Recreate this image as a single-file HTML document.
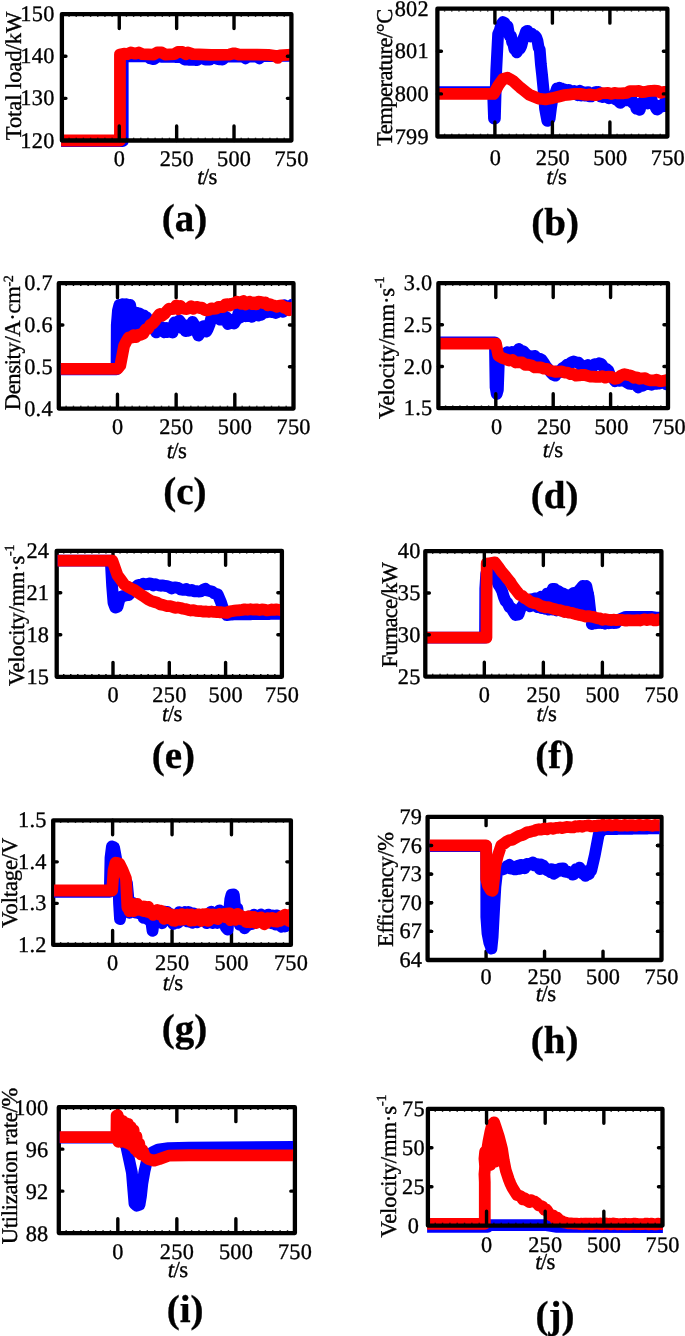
<!DOCTYPE html>
<html lang="en"><head><meta charset="utf-8"><title>Figure</title>
<style>
html,body{margin:0;padding:0;background:#fff;}
body{width:685px;height:1336px;overflow:hidden;font-family:"Liberation Serif",serif;}
svg{display:block;will-change:transform;transform:translateZ(0);}
text{text-rendering:geometricPrecision;stroke:#000;stroke-width:0.35px;stroke-linejoin:round;}
</style></head><body>
<svg width="685" height="1336" viewBox="0 0 685 1336">
<rect width="685" height="1336" fill="#fff"/>
<!-- panel (a) -->
<clipPath id="ca"><rect x="61.1" y="2.1" width="230.7" height="150.4" rx="2.5"/></clipPath><g clip-path="url(#ca)"><polyline points="61.9,141.13 63.28,141.13 64.66,141.13 66.05,141.13 67.43,141.13 68.81,141.13 70.19,141.13 71.58,141.13 72.96,141.13 74.34,141.13 75.72,141.13 77.1,141.13 78.49,141.13 79.87,141.13 81.25,141.13 82.63,141.13 84.02,141.13 85.4,141.13 86.78,141.13 88.16,141.13 89.54,141.13 90.93,141.13 92.31,141.13 93.69,141.13 95.07,141.13 96.46,141.13 97.84,141.13 99.22,141.13 100.6,141.13 101.98,141.13 103.37,141.13 104.75,141.13 106.13,141.13 107.51,141.13 108.9,141.13 110.28,141.13 111.66,141.13 113.04,141.13 114.42,141.13 115.81,141.13 117.19,141.13 118.57,141.13 119.95,141.13 121.34,141.13 122.72,141.13 122.72,56.23 124.13,56.23 125.55,56.23 126.97,56.23 128.39,56.23 129.81,56.23 131.22,56.23 132.64,56.23 134.06,56.23 135.47,56.23 136.89,56.23 138.31,56.23 139.73,56.23 141.14,56.23 142.56,56.23 143.98,56.23 145.4,56.23 146.81,56.23 148.54,57.29 150.26,58.34 151.98,58.76 153.7,59.18 155.42,57.92 157.14,56.65 158.56,56.68 159.98,56.7 161.39,56.73 162.81,56.75 164.23,56.78 165.65,56.8 167.06,56.83 168.48,56.85 169.9,56.88 171.32,56.9 172.73,56.93 174.15,56.95 175.57,56.98 176.99,57 178.4,57.03 179.82,57.05 181.24,57.08 182.96,58.34 184.68,59.6 186.08,59.65 187.49,59.7 188.89,59.74 190.29,59.79 191.69,59.84 193.1,59.88 194.5,59.93 195.9,59.98 197.3,60.03 199.03,58.55 200.75,57.08 202.28,57.92 203.81,58.76 205.34,59.6 206.87,59.6 208.4,59.6 209.93,59.6 212.22,56.65 213.66,57.29 215.09,57.92 216.53,58.55 217.96,59.18 219.49,59.32 221.02,59.46 222.55,59.6 224.27,58.13 225.99,56.65 227.43,56.65 228.86,56.65 230.3,56.65 231.73,56.65 233.16,56.65 234.6,56.65 236.03,56.65 237.47,56.65 238.9,56.65 240.34,56.65 241.77,56.65 243.2,56.65 245.5,58.34 247.79,56.65 249.32,56.65 250.85,56.65 252.38,56.65 253.91,56.65 255.44,56.65 256.97,56.65 259.27,58.34 261.56,56.23 262.99,56.21 264.41,56.19 265.83,56.17 267.25,56.15 268.67,56.13 270.09,56.11 271.51,56.09 272.93,56.07 274.35,56.05 275.77,56.03 277.19,56.01 278.61,55.99 280.03,55.97 281.45,55.95 282.88,55.93 284.3,55.91 285.72,55.89 287.14,55.87 288.56,55.85 289.98,55.83 291.4,55.81" fill="none" stroke="#0000ff" stroke-width="11.8" stroke-linecap="round" stroke-linejoin="round"/><polyline points="61.9,140.5 119.96,140.5 119.96,54.55 123.86,53.71 127.31,54.13 130.75,52.44 135.34,53.71 138.78,52.44 142.22,54.13 153.7,54.55 157.14,52.44 161.73,52.44 165.17,54.55 174.35,54.13 177.8,52.02 182.39,52.02 185.83,54.13 188.12,52.44 192.71,54.13 211.07,54.97 229.43,54.55 234.02,53.28 238.61,54.55 256.97,54.55 268.45,54.97 275.33,55.81 277.63,57.92 279.92,55.39 291.4,54.55" fill="none" stroke="#ff0000" stroke-width="11.8" stroke-linecap="round" stroke-linejoin="round"/></g>
<g><rect x="61.9" y="14.1" width="229.5" height="126.4" fill="none" stroke="#000" stroke-width="4.3" stroke-linejoin="round"/><path d="M119.27 140.5V126.05M119.27 14.1V28.55M176.65 140.5V126.05M176.65 14.1V28.55M234.02 140.5V126.05M234.02 14.1V28.55M61.9 98.37H65.95M291.4 98.37H287.35M61.9 56.23H65.95M291.4 56.23H287.35" stroke="#000" stroke-width="3.4" stroke-linecap="round" fill="none"/><path d="M69.07 15.95v0.9M69.07 137.75v0.9M76.24 15.95v0.9M76.24 137.75v0.9M83.42 15.95v0.9M83.42 137.75v0.9M90.59 15.95v0.9M90.59 137.75v0.9M97.76 15.95v0.9M97.76 137.75v0.9M104.93 15.95v0.9M104.93 137.75v0.9M112.1 15.95v0.9M112.1 137.75v0.9M119.27 15.95v0.9M119.27 137.75v0.9M126.45 15.95v0.9M126.45 137.75v0.9M133.62 15.95v0.9M133.62 137.75v0.9M140.79 15.95v0.9M140.79 137.75v0.9M147.96 15.95v0.9M147.96 137.75v0.9M155.13 15.95v0.9M155.13 137.75v0.9M162.31 15.95v0.9M162.31 137.75v0.9M169.48 15.95v0.9M169.48 137.75v0.9M176.65 15.95v0.9M176.65 137.75v0.9M183.82 15.95v0.9M183.82 137.75v0.9M190.99 15.95v0.9M190.99 137.75v0.9M198.17 15.95v0.9M198.17 137.75v0.9M205.34 15.95v0.9M205.34 137.75v0.9M212.51 15.95v0.9M212.51 137.75v0.9M219.68 15.95v0.9M219.68 137.75v0.9M226.85 15.95v0.9M226.85 137.75v0.9M234.02 15.95v0.9M234.02 137.75v0.9M241.2 15.95v0.9M241.2 137.75v0.9M248.37 15.95v0.9M248.37 137.75v0.9M255.54 15.95v0.9M255.54 137.75v0.9M262.71 15.95v0.9M262.71 137.75v0.9M269.88 15.95v0.9M269.88 137.75v0.9M277.06 15.95v0.9M277.06 137.75v0.9M284.23 15.95v0.9M284.23 137.75v0.9" stroke="#000" stroke-width="1.4" fill="none"/></g>
<g font-family='"Liberation Serif", serif' font-size="22.3" letter-spacing="0.25" fill="#000"><text x="54.55" y="147.6" text-anchor="end">120</text><text x="54.55" y="105.47" text-anchor="end">130</text><text x="54.55" y="63.33" text-anchor="end">140</text><text x="54.55" y="21.2" text-anchor="end">150</text><text x="119.4" y="166" text-anchor="middle">0</text><text x="176.77" y="166" text-anchor="middle">250</text><text x="234.15" y="166" text-anchor="middle">500</text><text x="291.52" y="166" text-anchor="middle">750</text></g>
<text x="207" y="184.1" text-anchor="middle" letter-spacing="-0.6" font-family='"Liberation Serif", serif' font-size="22.8" fill="#000"><tspan font-style="italic">t</tspan>/s</text>
<text transform="translate(20.6 76) rotate(-90)" font-family='"Liberation Serif", serif' font-size="22.6" text-anchor="middle" fill="#000" textLength="128.5" lengthAdjust="spacing">Total load/kW</text>
<text x="184.6" y="230.8" font-family='"Liberation Serif", serif' font-size="39" font-weight="bold" text-anchor="middle" fill="#000">(a)</text>
<!-- panel (b) -->
<clipPath id="cb"><rect x="436.6" y="-3.3" width="231.2" height="151.8" rx="2.5"/></clipPath><g clip-path="url(#cb)"><polyline points="437.4,92.2 438.56,92.2 439.72,92.2 440.88,92.2 442.04,92.2 443.2,92.2 444.36,92.2 445.52,92.2 446.68,92.2 447.84,92.2 449,92.2 450.16,92.2 451.31,92.2 452.47,92.2 453.63,92.2 454.79,92.2 455.95,92.2 457.11,92.2 458.27,92.2 459.43,92.2 460.59,92.2 461.75,92.2 462.91,92.2 464.07,92.2 465.23,92.2 466.39,92.2 467.55,92.2 468.71,92.2 469.87,92.2 471.03,92.2 472.19,92.2 473.35,92.2 474.51,92.2 475.67,92.2 476.83,92.2 477.99,92.2 479.14,92.2 480.3,92.2 481.46,92.2 482.62,92.2 483.78,92.2 484.94,92.2 486.1,92.2 487.26,92.2 488.42,92.2 489.58,92.2 490.74,92.2 491.9,92.2 493.06,92.2 493.98,118.61 494.9,118.61 496.28,69.68 498.12,34.03 499.73,30.24 501.34,24.36 502.95,22.12 504.56,22.85 506.05,26.74 507.55,26.14 508.7,32.65 509.85,36.33 511,35.99 512.15,42.22 513.3,43.9 514.45,49.29 515.6,49.17 516.75,52.38 517.9,50.61 519.05,48 520.2,48.34 521.35,45.81 522.85,39.77 524.34,36.49 525.95,31.45 527.56,30.81 528.94,33.71 530.32,36.52 531.7,33.67 532.85,36.42 534,35.91 535.15,35.84 536.3,37.43 537.45,40.63 538.6,47.58 539.75,49.76 540.9,64.36 542.05,74.63 543.54,89.83 545.04,108.74 546.19,114.93 547.34,120.91 548.49,116.65 549.64,118.93 551.02,107.74 552.4,99.18 553.55,95.78 554.7,94.06 555.85,91.89 557,88.35 558.15,88.85 559.3,87.72 560.45,89.35 561.6,88.58 562.75,89.45 563.9,89.26 565.05,91 566.2,93.71 567.35,90.25 568.5,89.82 569.65,90.23 570.8,92.06 571.95,91.42 573.1,94.1 574.25,91.03 575.4,92.46 576.55,94.04 577.7,95.28 578.85,91.35 580,90.76 581.15,95.47 582.3,91.94 583.45,94.04 584.6,95.47 585.75,94.85 586.9,92.53 588.05,92.05 589.2,96.34 590.35,93.47 591.5,96.44 592.65,93.05 593.8,95.08 594.95,92.33 596.1,91.87 597.25,94.35 598.4,91.88 599.55,95.46 600.7,96.7 601.85,94.08 603,97.04 604.15,96.25 605.3,95.22 606.45,94.61 607.6,97.36 608.75,98.37 609.9,94.58 611.05,97.83 612.2,94.96 613.35,95.71 614.5,98.78 615.65,99.38 616.8,100.1 617.95,100.49 619.1,101.76 620.25,102.97 621.4,100.95 622.55,97.61 623.7,98.12 624.85,98.78 626,97.57 627.15,100.3 628.3,100.24 629.45,97.05 630.6,99.65 631.75,99.78 632.9,102.79 634.05,102.68 635.2,103.8 636.35,108.62 637.5,107.54 638.65,109.41 639.8,109.78 640.95,104.33 642.1,102.59 643.25,101.24 644.4,102.64 645.55,100.56 646.7,100.14 647.85,103.53 649,103.07 650.15,99.66 651.3,97.92 652.45,103.27 653.6,103.92 654.75,104.93 655.9,108.03 657.05,109.51 658.2,108.77 659.35,107.49 660.5,105.34 661.79,106.34 663.08,105.43 664.36,102.9 665.65,106.2 666.94,102.92" fill="none" stroke="#0000ff" stroke-width="11.8" stroke-linecap="round" stroke-linejoin="round"/><polyline points="437.4,93.9 440.22,93.9 443.03,93.9 445.85,93.9 448.67,93.9 451.49,93.9 454.3,93.9 457.12,93.9 459.94,93.9 462.76,93.9 465.57,93.9 468.39,93.9 471.21,93.9 474.03,93.9 476.84,93.9 479.66,93.9 482.48,93.9 485.3,93.9 488.12,93.9 490.93,93.9 493.75,93.9 498.35,85.38 502.95,78.99 507.55,77.71 510.42,79.42 513.3,81.12 516.75,84.32 520.2,87.51 523.27,89.92 526.33,92.34 529.4,94.75 532.47,96.03 535.53,97.31 538.6,98.59 542.05,99.01 545.5,99.44 548.95,98.8 552.4,98.16 555.27,97.41 558.15,96.67 561.02,95.92 563.9,95.18 566.77,94.86 569.65,94.54 572.52,94.22 575.4,93.9 578.27,93.95 581.15,94.01 584.02,94.62 586.9,94.96 589.77,94.39 592.65,94.95 595.52,95.2 598.4,94.54 601.62,93.18 604.84,93.17 608.06,92.99 611.28,93.9 614.5,92.97 617.57,93.31 620.63,93.32 623.7,93.25 626.77,92.8 629.83,91.07 632.9,91.07 635.97,91.05 639.03,90.99 642.1,92.21 645.17,91.89 648.23,91.14 651.3,90.85 654.43,90.76 657.56,90.88 660.68,92.74 663.81,91.8 666.94,91.83" fill="none" stroke="#ff0000" stroke-width="11.8" stroke-linecap="round" stroke-linejoin="round"/></g>
<g><rect x="437.4" y="8.7" width="230" height="127.8" fill="none" stroke="#000" stroke-width="4.3" stroke-linejoin="round"/><path d="M494.9 136.5V122.05M494.9 8.7V23.15M552.4 136.5V122.05M552.4 8.7V23.15M609.9 136.5V122.05M609.9 8.7V23.15M437.4 93.9H441.45M667.4 93.9H663.35M437.4 51.3H441.45M667.4 51.3H663.35" stroke="#000" stroke-width="3.4" stroke-linecap="round" fill="none"/><path d="M444.59 10.55v0.9M444.59 133.75v0.9M451.77 10.55v0.9M451.77 133.75v0.9M458.96 10.55v0.9M458.96 133.75v0.9M466.15 10.55v0.9M466.15 133.75v0.9M473.34 10.55v0.9M473.34 133.75v0.9M480.52 10.55v0.9M480.52 133.75v0.9M487.71 10.55v0.9M487.71 133.75v0.9M494.9 10.55v0.9M494.9 133.75v0.9M502.09 10.55v0.9M502.09 133.75v0.9M509.27 10.55v0.9M509.27 133.75v0.9M516.46 10.55v0.9M516.46 133.75v0.9M523.65 10.55v0.9M523.65 133.75v0.9M530.84 10.55v0.9M530.84 133.75v0.9M538.02 10.55v0.9M538.02 133.75v0.9M545.21 10.55v0.9M545.21 133.75v0.9M552.4 10.55v0.9M552.4 133.75v0.9M559.59 10.55v0.9M559.59 133.75v0.9M566.77 10.55v0.9M566.77 133.75v0.9M573.96 10.55v0.9M573.96 133.75v0.9M581.15 10.55v0.9M581.15 133.75v0.9M588.34 10.55v0.9M588.34 133.75v0.9M595.52 10.55v0.9M595.52 133.75v0.9M602.71 10.55v0.9M602.71 133.75v0.9M609.9 10.55v0.9M609.9 133.75v0.9M617.09 10.55v0.9M617.09 133.75v0.9M624.27 10.55v0.9M624.27 133.75v0.9M631.46 10.55v0.9M631.46 133.75v0.9M638.65 10.55v0.9M638.65 133.75v0.9M645.84 10.55v0.9M645.84 133.75v0.9M653.02 10.55v0.9M653.02 133.75v0.9M660.21 10.55v0.9M660.21 133.75v0.9" stroke="#000" stroke-width="1.4" fill="none"/></g>
<g font-family='"Liberation Serif", serif' font-size="22.3" letter-spacing="0.25" fill="#000"><text x="428.85" y="143.6" text-anchor="end">799</text><text x="428.85" y="101" text-anchor="end">800</text><text x="428.85" y="58.4" text-anchor="end">801</text><text x="428.85" y="15.8" text-anchor="end">802</text><text x="495.42" y="165.2" text-anchor="middle">0</text><text x="552.92" y="165.2" text-anchor="middle">250</text><text x="610.42" y="165.2" text-anchor="middle">500</text><text x="667.92" y="165.2" text-anchor="middle">750</text></g>
<text x="556.3" y="183.6" text-anchor="middle" letter-spacing="-0.6" font-family='"Liberation Serif", serif' font-size="22.8" fill="#000"><tspan font-style="italic">t</tspan>/s</text>
<text transform="translate(392 77.3) rotate(-90)" font-family='"Liberation Serif", serif' font-size="22.6" text-anchor="middle" fill="#000" textLength="137.5" lengthAdjust="spacing">Temperature/&#176;C</text>
<text x="555.2" y="235" font-family='"Liberation Serif", serif' font-size="39" font-weight="bold" text-anchor="middle" fill="#000">(b)</text>
<!-- panel (c) -->
<g><rect x="58.8" y="283.2" width="234.7" height="125.4" fill="none" stroke="#000" stroke-width="4.3" stroke-linejoin="round"/><path d="M117.47 408.6V394.15M117.47 283.2V297.65M176.15 408.6V394.15M176.15 283.2V297.65M234.82 408.6V394.15M234.82 283.2V297.65M58.8 366.8H62.85M293.5 366.8H289.45M58.8 325H62.85M293.5 325H289.45" stroke="#000" stroke-width="3.4" stroke-linecap="round" fill="none"/><path d="M66.13 285.05v0.9M66.13 405.85v0.9M73.47 285.05v0.9M73.47 405.85v0.9M80.8 285.05v0.9M80.8 405.85v0.9M88.14 285.05v0.9M88.14 405.85v0.9M95.47 285.05v0.9M95.47 405.85v0.9M102.81 285.05v0.9M102.81 405.85v0.9M110.14 285.05v0.9M110.14 405.85v0.9M117.47 285.05v0.9M117.47 405.85v0.9M124.81 285.05v0.9M124.81 405.85v0.9M132.14 285.05v0.9M132.14 405.85v0.9M139.48 285.05v0.9M139.48 405.85v0.9M146.81 285.05v0.9M146.81 405.85v0.9M154.15 285.05v0.9M154.15 405.85v0.9M161.48 285.05v0.9M161.48 405.85v0.9M168.82 285.05v0.9M168.82 405.85v0.9M176.15 285.05v0.9M176.15 405.85v0.9M183.48 285.05v0.9M183.48 405.85v0.9M190.82 285.05v0.9M190.82 405.85v0.9M198.15 285.05v0.9M198.15 405.85v0.9M205.49 285.05v0.9M205.49 405.85v0.9M212.82 285.05v0.9M212.82 405.85v0.9M220.16 285.05v0.9M220.16 405.85v0.9M227.49 285.05v0.9M227.49 405.85v0.9M234.82 285.05v0.9M234.82 405.85v0.9M242.16 285.05v0.9M242.16 405.85v0.9M249.49 285.05v0.9M249.49 405.85v0.9M256.83 285.05v0.9M256.83 405.85v0.9M264.16 285.05v0.9M264.16 405.85v0.9M271.5 285.05v0.9M271.5 405.85v0.9M278.83 285.05v0.9M278.83 405.85v0.9M286.17 285.05v0.9M286.17 405.85v0.9" stroke="#000" stroke-width="1.4" fill="none"/></g>
<clipPath id="cc"><rect x="60.8" y="271.2" width="230.85" height="149.4" rx="2.5"/></clipPath><g clip-path="url(#cc)"><polyline points="58.8,369.31 116.54,369.31 116.77,325 117.94,310.37 119.35,304.94 120.76,306.61 122.64,304.1 124.52,306.19 126.39,304.1 128.27,306.61 130.15,304.94 131.56,314.55" fill="none" stroke="#0000ff" stroke-width="11.8" stroke-linecap="round" stroke-linejoin="round"/><polyline points="131.56,313.73 133.12,313.28 134.69,313.27 136.25,312.64 137.82,314.34 139.38,313.47 140.94,319.79 142.35,317.71 143.76,315.35 145.17,318.15 146.58,317.3 147.99,323.41 149.55,323.12 151.12,326.69 152.68,326.8 154.44,327.64 156.2,332.44 157.84,331.24 159.49,330.99 161.13,326.9 162.77,328.07 164.41,332.29 166.06,327.86 167.7,332.1 169.34,328.73 170.99,331.84 172.63,332.51 174.39,322.52 176.15,322.76 177.71,324.12 179.28,320.38 180.84,322.51 182.41,328.5 183.97,326.09 185.54,331.01 186.95,328.83 188.35,330.74 189.76,324.56 191.17,324.98 192.58,321.88 194.05,324.46 195.51,330.53 196.98,332.2 198.45,335.59 200.01,332.94 201.58,330.7 203.14,326.33 204.71,325.98 206.27,331.67 207.83,328.83 209.59,324.41 211.36,317.91 212.82,314.51 214.29,316.77 215.76,317.87 217.22,316.77 218.69,315.27 220.16,319.6 221.62,313.46 223.09,319.83 224.65,316.36 226.22,317.12 227.78,324.04 229.35,319.45 230.91,322.83 232.48,321.97 234.04,323.55 235.61,321.06 237.17,317.94 238.64,312.66 240.11,317.62 241.57,313.78 243.04,312.51 244.51,312.33 245.97,316.22 247.44,316.04 248.91,314.8 250.47,312.71 252.04,316.75 253.6,312.05 255.17,311.31 256.73,310.47 258.29,315.56 259.74,309.29 261.18,314.81 262.63,312.95 264.07,310.95 265.52,308.7 266.96,312.37 268.41,308.27 269.85,310.61 271.29,311.98 272.74,311.76 274.18,312.49 275.63,312.97 277.07,312.3 278.56,308.38 280.06,306.02 281.55,311.3 283.05,311.76 284.54,305.18 286.03,307.9 287.53,308.45 289.02,309.28 290.51,306.59 292.01,304.73 293.5,306.9" fill="none" stroke="#0000ff" stroke-width="11.8" stroke-linecap="round" stroke-linejoin="round"/><polyline points="117.01,354.26 117.94,316.64 119.82,345.9 121.7,312.46 123.58,341.72 125.45,308.28 127.33,335.45 129.21,308.28 131.56,329.18 134.37,316.64 137.42,325" fill="none" stroke="#0000ff" stroke-width="11.8" stroke-linecap="round" stroke-linejoin="round"/><polyline points="58.8,368.89 60.97,368.89 63.15,368.89 65.32,368.89 67.49,368.89 69.67,368.89 71.84,368.89 74.01,368.89 76.19,368.89 78.36,368.89 80.53,368.89 82.7,368.89 84.88,368.89 87.05,368.89 89.22,368.89 91.4,368.89 93.57,368.89 95.74,368.89 97.92,368.89 100.09,368.89 102.26,368.89 104.44,368.89 106.61,368.89 108.78,368.89 110.96,368.89 113.13,368.89 115.3,368.89 117.47,368.89 120.29,365.55 124.05,345.9 126.39,341.3 128.74,337.44 131.18,337.66 133.62,335.07 136.06,336.99 138.5,334.55 140.94,334.76 143.29,333.67 145.64,329.43 147.99,329.02 150.33,324.75 152.68,323.66 155.03,320.96 157.37,316.96 159.72,314.02 162.07,315.7 164.41,314.03 166.76,311.09 169.11,308.71 171.46,309.21 173.8,308.92 176.15,305.45 178.28,309.34 180.42,305.95 182.55,308.32 184.68,308.93 186.82,309.04 188.95,308.24 191.09,306.12 193.22,308.78 195.35,307.1 197.49,306.86 199.62,307.98 201.97,307.58 204.31,309.94 206.66,310.29 209.01,310.01 211.36,308.36 213.7,308.83 216.05,308.72 218.4,307 220.74,306.97 223.09,307.03 225.44,304.37 227.78,304.19 230.13,305.5 232.48,303.54 234.82,303.16 236.96,301.62 239.09,302.15 241.23,303.92 243.36,300.95 245.49,304.48 247.63,303.15 249.76,301.66 251.89,304.11 254.03,302.63 256.16,304.43 258.29,301.72 260.64,301.84 262.99,303.17 265.34,302.43 267.68,305.3 270.03,304.22 272.38,305.17 274.72,305.75 277.07,306.79 279.42,305.55 281.76,305.47 284.11,307.79 286.46,307.35 288.81,310.24 291.15,307.92 293.5,308.5" fill="none" stroke="#ff0000" stroke-width="11.8" stroke-linecap="round" stroke-linejoin="round"/></g>
<g font-family='"Liberation Serif", serif' font-size="22.3" letter-spacing="0.25" fill="#000"><text x="52.8" y="415.7" text-anchor="end">0.4</text><text x="52.8" y="373.9" text-anchor="end">0.5</text><text x="52.8" y="332.1" text-anchor="end">0.6</text><text x="52.8" y="290.3" text-anchor="end">0.7</text><text x="117.6" y="433.7" text-anchor="middle">0</text><text x="176.27" y="433.7" text-anchor="middle">250</text><text x="234.95" y="433.7" text-anchor="middle">500</text><text x="293.62" y="433.7" text-anchor="middle">750</text></g>
<text x="176.5" y="458" text-anchor="middle" letter-spacing="-0.6" font-family='"Liberation Serif", serif' font-size="22.8" fill="#000"><tspan font-style="italic">t</tspan>/s</text>
<text transform="translate(19.7 342.8) rotate(-90)" font-family='"Liberation Serif", serif' font-size="22.6" text-anchor="middle" fill="#000" textLength="135" lengthAdjust="spacing">Density/A&#183;cm<tspan dy="-6.5" font-size="14">-2</tspan></text>
<text x="184.8" y="504" font-family='"Liberation Serif", serif' font-size="39" font-weight="bold" text-anchor="middle" fill="#000">(c)</text>
<!-- panel (d) -->
<clipPath id="cd"><rect x="437.6" y="271.1" width="230.8" height="149.1" rx="2.5"/></clipPath><g clip-path="url(#cd)"><polyline points="438.4,342.31 440.49,342.31 442.58,342.31 444.68,342.31 446.77,342.31 448.86,342.31 450.95,342.31 453.04,342.31 455.14,342.31 457.23,342.31 459.32,342.31 461.41,342.31 463.5,342.31 465.59,342.31 467.69,342.31 469.78,342.31 471.87,342.31 473.96,342.31 476.05,342.31 478.15,342.31 480.24,342.31 482.33,342.31 484.42,342.31 486.51,342.31 488.61,342.31 490.7,342.31 492.79,342.31 494.88,342.31 495.57,387.35 496.72,394.02 497.87,389.85 499.01,358.16 502,356.07 504.98,354.9 507.28,352.03 509.58,354.4 511.87,352.06 514.17,353.71 516.46,352.33 518.76,348.99 521.06,350.79 523.35,351.29 525.65,353.85 527.94,355.81 530.24,356.09 532.54,357.52 534.83,355.81 537.13,358.7 539.42,358.63 541.72,359.76 544.02,363.11 546.31,366.81 548.61,369.33 550.9,372.46 553.2,374.74 555.5,375.65 557.79,371.12 560.09,372.13 562.38,368.18 564.68,366.91 566.98,364.71 569.27,364.54 571.57,362.11 573.86,361.5 576.16,362.25 578.46,362.66 580.75,364.98 583.05,367.69 585.34,367.95 587.64,365.01 589.94,366.54 592.23,367.52 594.53,364.18 596.82,364.57 599.12,363.23 601.42,364.12 603.71,367.49 606.01,368.65 608.3,370.52 610.6,376.61 612.9,378.13 615.19,381.19 617.49,380.04 619.78,380.84 622.08,380.29 624.38,380.92 626.67,382.33 628.97,383.63 631.26,384.07 633.56,383.08 635.86,384.54 638.15,387.39 640.45,386 642.74,385.94 645.04,383.9 647.34,384.11 649.4,384.03 651.47,384.81 653.54,383.7 655.6,383.96 657.67,383.44 659.73,383.59 661.8,382.06 663.87,381.87 665.93,384.26 668,383.53" fill="none" stroke="#0000ff" stroke-width="11.8" stroke-linecap="round" stroke-linejoin="round"/><polyline points="438.4,343.56 441.28,343.56 444.16,343.56 447.04,343.56 449.93,343.56 452.81,343.56 455.69,343.56 458.57,343.56 461.45,343.56 464.33,343.56 467.21,343.56 470.1,343.56 472.98,343.56 475.86,343.56 478.74,343.56 481.62,343.56 484.5,343.56 487.39,343.56 490.27,343.56 493.15,343.56 496.03,343.56 497.18,349.82 498.33,355.66 502.69,358.23 505.9,359.25 509.12,360.55 512.33,359.93 515.55,362.48 518.76,362.32 521.97,362.37 525.19,364.84 528.4,364.72 531.62,365.43 534.83,367.42 537.89,367.44 540.95,367.48 544.02,368.68 547.08,368.83 550.14,370.66 553.2,371.19 556.07,371.97 558.94,371.7 561.81,371.39 564.68,372.57 567.55,372.73 570.42,374.03 573.29,373.83 576.16,375.64 579.03,375.47 581.9,374.91 584.77,375.01 587.64,375.83 590.51,376.71 593.38,376.56 596.25,376.88 599.12,376.95 602.18,376.17 605.24,377.67 608.3,376.57 611.37,376.86 614.43,378.79 617.49,378.42 620.93,375.69 624.38,374.13 627.82,374.99 631.26,375.69 634.02,377.78 636.77,377.31 639.53,378.77 642.28,378.35 645.04,378.22 647.91,379.81 650.78,380.41 653.65,380.47 656.52,379.76 659.39,381.02 662.26,381.09 665.13,380.48 668,379.84" fill="none" stroke="#ff0000" stroke-width="11.8" stroke-linecap="round" stroke-linejoin="round"/></g>
<g><rect x="438.4" y="283.1" width="229.6" height="125.1" fill="none" stroke="#000" stroke-width="4.3" stroke-linejoin="round"/><path d="M495.8 408.2V393.75M495.8 283.1V297.55M553.2 408.2V393.75M553.2 283.1V297.55M610.6 408.2V393.75M610.6 283.1V297.55M438.4 366.5H442.45M668 366.5H663.95M438.4 324.8H442.45M668 324.8H663.95" stroke="#000" stroke-width="3.4" stroke-linecap="round" fill="none"/><path d="M445.57 284.95v0.9M445.57 405.45v0.9M452.75 284.95v0.9M452.75 405.45v0.9M459.92 284.95v0.9M459.92 405.45v0.9M467.1 284.95v0.9M467.1 405.45v0.9M474.27 284.95v0.9M474.27 405.45v0.9M481.45 284.95v0.9M481.45 405.45v0.9M488.62 284.95v0.9M488.62 405.45v0.9M495.8 284.95v0.9M495.8 405.45v0.9M502.97 284.95v0.9M502.97 405.45v0.9M510.15 284.95v0.9M510.15 405.45v0.9M517.33 284.95v0.9M517.33 405.45v0.9M524.5 284.95v0.9M524.5 405.45v0.9M531.67 284.95v0.9M531.67 405.45v0.9M538.85 284.95v0.9M538.85 405.45v0.9M546.02 284.95v0.9M546.02 405.45v0.9M553.2 284.95v0.9M553.2 405.45v0.9M560.38 284.95v0.9M560.38 405.45v0.9M567.55 284.95v0.9M567.55 405.45v0.9M574.73 284.95v0.9M574.73 405.45v0.9M581.9 284.95v0.9M581.9 405.45v0.9M589.08 284.95v0.9M589.08 405.45v0.9M596.25 284.95v0.9M596.25 405.45v0.9M603.42 284.95v0.9M603.42 405.45v0.9M610.6 284.95v0.9M610.6 405.45v0.9M617.77 284.95v0.9M617.77 405.45v0.9M624.95 284.95v0.9M624.95 405.45v0.9M632.12 284.95v0.9M632.12 405.45v0.9M639.3 284.95v0.9M639.3 405.45v0.9M646.48 284.95v0.9M646.48 405.45v0.9M653.65 284.95v0.9M653.65 405.45v0.9M660.83 284.95v0.9M660.83 405.45v0.9" stroke="#000" stroke-width="1.4" fill="none"/></g>
<g font-family='"Liberation Serif", serif' font-size="22.3" letter-spacing="0.25" fill="#000"><text x="432.4" y="415.3" text-anchor="end">1.5</text><text x="432.4" y="373.6" text-anchor="end">2.0</text><text x="432.4" y="331.9" text-anchor="end">2.5</text><text x="432.4" y="290.2" text-anchor="end">3.0</text><text x="496.72" y="433.7" text-anchor="middle">0</text><text x="554.12" y="433.7" text-anchor="middle">250</text><text x="611.52" y="433.7" text-anchor="middle">500</text><text x="668.92" y="433.7" text-anchor="middle">750</text></g>
<text x="552.7" y="457.1" text-anchor="middle" letter-spacing="-0.6" font-family='"Liberation Serif", serif' font-size="22.8" fill="#000"><tspan font-style="italic">t</tspan>/s</text>
<text transform="translate(393.8 347.8) rotate(-90)" font-family='"Liberation Serif", serif' font-size="22.6" text-anchor="middle" fill="#000" textLength="142.5" lengthAdjust="spacing">Velocity/mm&#183;s<tspan dy="-10" font-size="14">-1</tspan></text>
<text x="554.7" y="508.3" font-family='"Liberation Serif", serif' font-size="39" font-weight="bold" text-anchor="middle" fill="#000">(d)</text>
<!-- panel (e) -->
<g><rect x="56.7" y="550.8" width="225.2" height="126" fill="none" stroke="#000" stroke-width="4.3" stroke-linejoin="round"/><path d="M113 676.8V662.35M113 550.8V565.25M169.3 676.8V662.35M169.3 550.8V565.25M225.6 676.8V662.35M225.6 550.8V565.25M56.7 634.8H60.75M281.9 634.8H277.85M56.7 592.8H60.75M281.9 592.8H277.85" stroke="#000" stroke-width="3.4" stroke-linecap="round" fill="none"/><path d="M63.74 552.65v0.9M63.74 674.05v0.9M70.78 552.65v0.9M70.78 674.05v0.9M77.81 552.65v0.9M77.81 674.05v0.9M84.85 552.65v0.9M84.85 674.05v0.9M91.89 552.65v0.9M91.89 674.05v0.9M98.92 552.65v0.9M98.92 674.05v0.9M105.96 552.65v0.9M105.96 674.05v0.9M113 552.65v0.9M113 674.05v0.9M120.04 552.65v0.9M120.04 674.05v0.9M127.08 552.65v0.9M127.08 674.05v0.9M134.11 552.65v0.9M134.11 674.05v0.9M141.15 552.65v0.9M141.15 674.05v0.9M148.19 552.65v0.9M148.19 674.05v0.9M155.22 552.65v0.9M155.22 674.05v0.9M162.26 552.65v0.9M162.26 674.05v0.9M169.3 552.65v0.9M169.3 674.05v0.9M176.34 552.65v0.9M176.34 674.05v0.9M183.38 552.65v0.9M183.38 674.05v0.9M190.41 552.65v0.9M190.41 674.05v0.9M197.45 552.65v0.9M197.45 674.05v0.9M204.49 552.65v0.9M204.49 674.05v0.9M211.52 552.65v0.9M211.52 674.05v0.9M218.56 552.65v0.9M218.56 674.05v0.9M225.6 552.65v0.9M225.6 674.05v0.9M232.64 552.65v0.9M232.64 674.05v0.9M239.68 552.65v0.9M239.68 674.05v0.9M246.71 552.65v0.9M246.71 674.05v0.9M253.75 552.65v0.9M253.75 674.05v0.9M260.79 552.65v0.9M260.79 674.05v0.9M267.82 552.65v0.9M267.82 674.05v0.9M274.86 552.65v0.9M274.86 674.05v0.9" stroke="#000" stroke-width="1.4" fill="none"/></g>
<clipPath id="ce"><rect x="57.6" y="538.8" width="222.45" height="150" rx="2.5"/></clipPath><g clip-path="url(#ce)"><polyline points="56.7,560.6 58.5,560.6 60.3,560.6 62.1,560.6 63.91,560.6 65.71,560.6 67.51,560.6 69.31,560.6 71.11,560.6 72.91,560.6 74.72,560.6 76.52,560.6 78.32,560.6 80.12,560.6 81.92,560.6 83.72,560.6 85.53,560.6 87.33,560.6 89.13,560.6 90.93,560.6 92.73,560.6 94.53,560.6 96.34,560.6 98.14,560.6 99.94,560.6 101.74,560.6 103.54,560.6 105.34,560.6 107.14,560.6 108.95,560.6 110.75,560.6 112.1,585.8 113.45,602.6 115.25,607.5 117.5,606.8 119.31,599.8 122.01,596.3 124.26,595.83 126.51,595.25 128.76,595.02 131.02,592.32 133.27,590.49 135.52,587.37 137.77,585.26 139.65,584.84 141.53,584.97 143.4,583.67 145.37,584.16 147.34,584.47 149.31,583.46 151.28,583.57 153.21,585.37 155.14,584.19 157.07,584.83 159.01,585.4 160.94,585.76 162.87,585.31 164.8,585.87 167.05,586.19 169.3,586.93 171.55,588.52 173.35,587.59 175.16,587.37 176.96,587.53 178.76,588.27 180.56,589.37 182.44,589.78 184.31,589.91 186.19,588.91 188.07,590.33 189.94,590.57 191.82,590.03 194.07,591.25 196.32,591.08 198.58,591.51 200.83,591.43 203.08,589.86 205.33,588.72 207.58,590.58 209.84,591.16 212.09,591.55 213.96,593.34 215.84,593.74 217.72,594.37 221.1,602.6 223.8,611 226.73,615.2 228.6,614.97 230.48,614.73 232.36,614.5 234.19,614.47 236.03,614.45 237.86,614.42 239.7,614.4 241.53,614.37 243.37,614.34 245.2,614.32 247.04,614.29 248.87,614.27 250.71,614.24 252.54,614.21 254.38,614.19 256.21,614.16 258.05,614.14 259.88,614.11 261.72,614.09 263.55,614.06 265.39,614.03 267.22,614.01 269.06,613.98 270.89,613.96 272.73,613.93 274.56,613.9 276.4,613.88 278.23,613.85 280.07,613.83 281.9,613.8" fill="none" stroke="#0000ff" stroke-width="11.8" stroke-linecap="round" stroke-linejoin="round"/><polyline points="56.7,560.6 59.23,560.6 61.76,560.6 64.29,560.6 66.81,560.6 69.34,560.6 71.87,560.6 74.4,560.6 76.93,560.6 79.46,560.6 81.98,560.6 84.51,560.6 87.04,560.6 89.57,560.6 92.1,560.6 94.63,560.6 97.15,560.6 99.68,560.6 102.21,560.6 104.74,560.6 107.27,560.6 109.8,560.6 112.32,560.6 114.35,566.2 117.5,575.3 120.88,579.85 124.26,584.4 127.64,586.55 131.02,588.54 134.17,589.93 137.32,592.13 140.92,594.54 144.53,596.91 148.13,599.41 151.73,601.19 154.59,602.01 157.44,602.78 160.29,604.4 163.37,604.99 166.45,605.99 169.53,606.08 172.28,606.72 175.04,607.88 177.8,607.48 180.56,608.02 183.15,608.71 185.74,609.14 188.33,609.97 190.92,610.5 193.49,610.23 196.07,610.93 198.64,611.04 201.21,611.23 203.79,611.68 206.36,611.5 208.94,611.76 211.48,611.5 214.02,611.96 216.56,611.98 219.1,612.26 221.64,612.24 224.18,612.58 226.73,612.9 229.35,611.63 231.98,611.07 234.61,610.67 237.14,610.34 239.68,610.27 242.21,609.9 244.74,609.39 247.67,609.74 250.6,609.2 253.52,609.7 256.45,609.4 259.38,609.99 261.88,609.43 264.38,609.54 266.89,610.37 269.39,610.16 271.89,609.48 274.39,609.91 276.9,609.41 279.4,609.98 281.9,610.3" fill="none" stroke="#ff0000" stroke-width="11.8" stroke-linecap="round" stroke-linejoin="round"/></g>
<g font-family='"Liberation Serif", serif' font-size="22.3" letter-spacing="0.25" fill="#000"><text x="49.25" y="683.9" text-anchor="end">15</text><text x="49.25" y="641.9" text-anchor="end">18</text><text x="49.25" y="599.9" text-anchor="end">21</text><text x="49.25" y="557.9" text-anchor="end">24</text><text x="113.12" y="702.3" text-anchor="middle">0</text><text x="169.43" y="702.3" text-anchor="middle">250</text><text x="225.72" y="702.3" text-anchor="middle">500</text><text x="282.02" y="702.3" text-anchor="middle">750</text></g>
<text x="171.9" y="721.2" text-anchor="middle" letter-spacing="-0.6" font-family='"Liberation Serif", serif' font-size="22.8" fill="#000"><tspan font-style="italic">t</tspan>/s</text>
<text transform="translate(23.8 615.3) rotate(-90)" font-family='"Liberation Serif", serif' font-size="22.6" text-anchor="middle" fill="#000" textLength="141.5" lengthAdjust="spacing">Velocity/mm&#183;s<tspan dy="-10" font-size="14">-1</tspan></text>
<text x="173.3" y="768" font-family='"Liberation Serif", serif' font-size="39" font-weight="bold" text-anchor="middle" fill="#000">(e)</text>
<!-- panel (f) -->
<clipPath id="cf"><rect x="424.5" y="539.1" width="237.3" height="149.5" rx="2.5"/></clipPath><g clip-path="url(#cf)"><polyline points="425.3,637.7 426.96,637.7 428.62,637.7 430.28,637.7 431.94,637.7 433.6,637.7 435.26,637.7 436.91,637.7 438.57,637.7 440.23,637.7 441.89,637.7 443.55,637.7 445.21,637.7 446.87,637.7 448.53,637.7 450.19,637.7 451.85,637.7 453.51,637.7 455.17,637.7 456.83,637.7 458.49,637.7 460.14,637.7 461.8,637.7 463.46,637.7 465.12,637.7 466.78,637.7 468.44,637.7 470.1,637.7 471.76,637.7 473.42,637.7 475.08,637.7 476.74,637.7 478.4,637.7 480.06,637.7 481.71,637.7 483.37,637.7 485.03,637.7 485.27,588.75 486.21,573.69 488.1,573.27 489.99,572.85 491.88,572.43 493.77,572.02 496.13,578.29 498.49,584.69 500.26,587.38 502.03,590.9 503.8,596.91 505.57,601.08 507.54,603 509.51,607.1 511.48,608.21 513.48,611.7 515.49,615.05 518.56,614.41 520.33,608.91 522.1,606.31 523.87,604.09 525.64,604.56 527.41,600.23 529.18,603.37 531.07,599.14 532.96,601.95 534.85,598.42 536.74,599.39 538.63,598.4 540.99,596.77 543.35,601.05 545.24,599.34 547.13,593.83 549.02,594.23 550.91,594.68 552.79,588.98 554.56,588.96 556.34,592.66 558.11,590.99 559.88,592.13 561.84,593.25 563.81,593.76 565.78,597.86 567.75,595.08 569.71,597.82 571.68,596.98 573.45,592.92 575.22,593.82 576.99,592.69 578.76,590.81 580.89,588.44 583.01,585.94 584.67,588.44 586.32,586.02 588.68,597.12 590.57,613.85 593.4,623.05 595.2,622.89 596.99,622.72 598.79,622.55 600.58,622.38 602.38,622.22 604.06,622.34 605.75,622.46 607.43,622.58 609.12,622.69 610.81,622.81 612.49,622.93 614.18,623.05 616.54,621.38 618.9,619.71 620.67,618.97 622.44,618.24 624.21,617.51 625.99,616.78 627.67,616.78 629.36,616.78 631.04,616.78 632.73,616.78 634.42,616.78 636.1,616.78 637.79,616.78 639.48,616.78 641.16,616.78 642.85,616.78 644.54,616.78 646.22,616.78 647.91,616.78 649.6,616.78 651.28,616.96 652.97,617.14 654.65,617.32 656.34,617.5 658.03,617.67 659.71,617.85 661.4,618.03" fill="none" stroke="#0000ff" stroke-width="11.8" stroke-linecap="round" stroke-linejoin="round"/><polyline points="591.75,624.09 593.66,622.84 595.56,623.31 597.47,622.01 599.38,622.77 601.29,623 603.19,621.95 605.1,623.59 607.01,622.18 608.91,623.25 610.82,622.61 612.73,621.88 614.63,622.28 616.54,622.79" fill="none" stroke="#0000ff" stroke-width="11.8" stroke-linecap="round" stroke-linejoin="round"/><polyline points="524.46,602.14 526.35,604.65 528.24,601.3 530.13,606.32 532.02,600.46 533.91,605.48 535.79,598.79 537.68,607.16 539.57,598.79 541.46,607.99 543.35,599.63 545.24,608.83 547.13,596.28 549.02,609.67 550.91,592.93 552.79,609.67 554.68,592.1 556.57,610.5 558.46,592.1 560.35,610.5 562.24,593.77 564.13,611.34 566.02,597.12 567.9,612.18 569.79,596.28 571.68,612.18 573.57,595.44 575.46,613.01 577.35,592.93 579.24,613.01 581.13,588.75 583.01,613.85 584.9,587.91 586.79,613.85 588.21,594.61" fill="none" stroke="#0000ff" stroke-width="11.8" stroke-linecap="round" stroke-linejoin="round"/><polyline points="425.3,637.7 427.75,637.7 430.19,637.7 432.64,637.7 435.08,637.7 437.53,637.7 439.98,637.7 442.42,637.7 444.87,637.7 447.31,637.7 449.76,637.7 452.21,637.7 454.65,637.7 457.1,637.7 459.54,637.7 461.99,637.7 464.44,637.7 466.88,637.7 469.33,637.7 471.77,637.7 474.22,637.7 476.67,637.7 479.11,637.7 481.56,637.7 484,637.7 486.45,637.7 486.69,563.65 489.44,563.23 492.19,562.81 494.95,562.39 498.96,567.83 501.95,572.06 504.94,575.39 507.94,579.3 510.3,582.09 512.66,585.99 515.02,588.94 517.38,592.07 519.74,594.97 522.1,595.8 524.46,598.11 526.82,599.08 529.18,601.01 531.54,602.41 533.91,603.06 536.27,603.36 538.63,604.5 540.99,606.13 543.35,606.62 545.71,607.46 548.07,607.16 550.43,607.91 552.79,608.59 555.15,609.23 557.52,609.84 559.88,610.07 562.24,610.78 564.6,612 566.96,611.71 569.32,612.7 571.68,612.84 574.04,613.6 576.4,614.28 578.76,614.87 581.13,615.24 583.49,615.86 585.85,616.58 588.21,616.1 590.57,616.59 592.93,616.8 595.29,617.65 597.65,618.3 600.01,618.5 602.38,619.78 604.74,619.14 607.1,619.53 609.46,619.97 611.82,620.02 614.18,619.68 616.54,620.12 618.9,619.93 621.26,619.82 623.62,620.18 625.99,620.62 628.35,620.11 630.71,620.42 633.07,620.4 635.43,620.42 637.79,620.16 640.15,620.53 642.51,619.73 644.87,619.29 647.23,620.02 649.6,619.55 651.96,619.24 654.32,620.4 656.68,620.24 659.04,619.32 661.4,619.25" fill="none" stroke="#ff0000" stroke-width="11.8" stroke-linecap="round" stroke-linejoin="round"/></g>
<g><rect x="425.3" y="551.1" width="236.1" height="125.5" fill="none" stroke="#000" stroke-width="4.3" stroke-linejoin="round"/><path d="M484.32 676.6V662.15M484.32 551.1V565.55M543.35 676.6V662.15M543.35 551.1V565.55M602.38 676.6V662.15M602.38 551.1V565.55M425.3 634.77H429.35M661.4 634.77H657.35M425.3 592.93H429.35M661.4 592.93H657.35" stroke="#000" stroke-width="3.4" stroke-linecap="round" fill="none"/><path d="M432.68 552.95v0.9M432.68 673.85v0.9M440.06 552.95v0.9M440.06 673.85v0.9M447.43 552.95v0.9M447.43 673.85v0.9M454.81 552.95v0.9M454.81 673.85v0.9M462.19 552.95v0.9M462.19 673.85v0.9M469.57 552.95v0.9M469.57 673.85v0.9M476.95 552.95v0.9M476.95 673.85v0.9M484.32 552.95v0.9M484.32 673.85v0.9M491.7 552.95v0.9M491.7 673.85v0.9M499.08 552.95v0.9M499.08 673.85v0.9M506.46 552.95v0.9M506.46 673.85v0.9M513.84 552.95v0.9M513.84 673.85v0.9M521.22 552.95v0.9M521.22 673.85v0.9M528.59 552.95v0.9M528.59 673.85v0.9M535.97 552.95v0.9M535.97 673.85v0.9M543.35 552.95v0.9M543.35 673.85v0.9M550.73 552.95v0.9M550.73 673.85v0.9M558.11 552.95v0.9M558.11 673.85v0.9M565.48 552.95v0.9M565.48 673.85v0.9M572.86 552.95v0.9M572.86 673.85v0.9M580.24 552.95v0.9M580.24 673.85v0.9M587.62 552.95v0.9M587.62 673.85v0.9M595 552.95v0.9M595 673.85v0.9M602.38 552.95v0.9M602.38 673.85v0.9M609.75 552.95v0.9M609.75 673.85v0.9M617.13 552.95v0.9M617.13 673.85v0.9M624.51 552.95v0.9M624.51 673.85v0.9M631.89 552.95v0.9M631.89 673.85v0.9M639.27 552.95v0.9M639.27 673.85v0.9M646.64 552.95v0.9M646.64 673.85v0.9M654.02 552.95v0.9M654.02 673.85v0.9" stroke="#000" stroke-width="1.4" fill="none"/></g>
<g font-family='"Liberation Serif", serif' font-size="22.3" letter-spacing="0.25" fill="#000"><text x="420.55" y="683.7" text-anchor="end">25</text><text x="420.55" y="641.87" text-anchor="end">30</text><text x="420.55" y="600.03" text-anchor="end">35</text><text x="420.55" y="558.2" text-anchor="end">40</text><text x="484.45" y="702.1" text-anchor="middle">0</text><text x="543.48" y="702.1" text-anchor="middle">250</text><text x="602.5" y="702.1" text-anchor="middle">500</text><text x="661.52" y="702.1" text-anchor="middle">750</text></g>
<text x="546.3" y="721.2" text-anchor="middle" letter-spacing="-0.6" font-family='"Liberation Serif", serif' font-size="22.8" fill="#000"><tspan font-style="italic">t</tspan>/s</text>
<text transform="translate(397.1 614.8) rotate(-90)" font-family='"Liberation Serif", serif' font-size="22.6" text-anchor="middle" fill="#000" textLength="105.5" lengthAdjust="spacing">Furnace/kW</text>
<text x="554.8" y="768.4" font-family='"Liberation Serif", serif' font-size="39" font-weight="bold" text-anchor="middle" fill="#000">(f)</text>
<!-- panel (g) -->
<g><rect x="53.2" y="820.3" width="237.7" height="124.6" fill="none" stroke="#000" stroke-width="4.3" stroke-linejoin="round"/><path d="M112.62 944.9V930.45M112.62 820.3V834.75M172.05 944.9V930.45M172.05 820.3V834.75M231.47 944.9V930.45M231.47 820.3V834.75M53.2 903.37H57.25M290.9 903.37H286.85M53.2 861.83H57.25M290.9 861.83H286.85" stroke="#000" stroke-width="3.4" stroke-linecap="round" fill="none"/><path d="M60.63 822.15v0.9M60.63 942.15v0.9M68.06 822.15v0.9M68.06 942.15v0.9M75.48 822.15v0.9M75.48 942.15v0.9M82.91 822.15v0.9M82.91 942.15v0.9M90.34 822.15v0.9M90.34 942.15v0.9M97.77 822.15v0.9M97.77 942.15v0.9M105.2 822.15v0.9M105.2 942.15v0.9M112.62 822.15v0.9M112.62 942.15v0.9M120.05 822.15v0.9M120.05 942.15v0.9M127.48 822.15v0.9M127.48 942.15v0.9M134.91 822.15v0.9M134.91 942.15v0.9M142.34 822.15v0.9M142.34 942.15v0.9M149.77 822.15v0.9M149.77 942.15v0.9M157.19 822.15v0.9M157.19 942.15v0.9M164.62 822.15v0.9M164.62 942.15v0.9M172.05 822.15v0.9M172.05 942.15v0.9M179.48 822.15v0.9M179.48 942.15v0.9M186.91 822.15v0.9M186.91 942.15v0.9M194.33 822.15v0.9M194.33 942.15v0.9M201.76 822.15v0.9M201.76 942.15v0.9M209.19 822.15v0.9M209.19 942.15v0.9M216.62 822.15v0.9M216.62 942.15v0.9M224.05 822.15v0.9M224.05 942.15v0.9M231.47 822.15v0.9M231.47 942.15v0.9M238.9 822.15v0.9M238.9 942.15v0.9M246.33 822.15v0.9M246.33 942.15v0.9M253.76 822.15v0.9M253.76 942.15v0.9M261.19 822.15v0.9M261.19 942.15v0.9M268.62 822.15v0.9M268.62 942.15v0.9M276.04 822.15v0.9M276.04 942.15v0.9M283.47 822.15v0.9M283.47 942.15v0.9" stroke="#000" stroke-width="1.4" fill="none"/></g>
<clipPath id="cg"><rect x="54.1" y="808.3" width="234.95" height="148.6" rx="2.5"/></clipPath><g clip-path="url(#cg)"><polyline points="53.2,891.74 54.4,891.74 55.61,891.74 56.81,891.74 58.01,891.74 59.22,891.74 60.42,891.74 61.63,891.74 62.83,891.74 64.03,891.74 65.24,891.74 66.44,891.74 67.64,891.74 68.85,891.74 70.05,891.74 71.26,891.74 72.46,891.74 73.66,891.74 74.87,891.74 76.07,891.74 77.27,891.74 78.48,891.74 79.68,891.74 80.88,891.74 82.09,891.74 83.29,891.74 84.5,891.74 85.7,891.74 86.9,891.74 88.11,891.74 89.31,891.74 90.51,891.74 91.72,891.74 92.92,891.74 94.12,891.74 95.33,891.74 96.53,891.74 97.74,891.74 98.94,891.74 100.14,891.74 101.35,891.74 102.55,891.74 103.75,891.74 104.96,891.74 106.16,891.74 107.37,891.74 108.57,891.74 109.77,891.74 110.49,857.68 111.91,846.47 114.05,847.3 115.95,857.68 117.85,870.14 119.04,903.37 119.99,919.15 121.66,907.52 123.08,897.14 124.51,886.75 125.7,884.68 126.89,882.6 128.08,895.06 129.26,912.75 130.45,905.17 131.64,906.19 132.83,902.71 134.02,911.95 135.21,912.5 136.39,906.49 137.58,908.01 138.77,913.25 139.96,908.71 141.15,913.05 142.34,908.5 143.53,917.78 144.71,916.91 145.9,908.41 147.09,916.99 148.28,919.63 149.47,913.76 150.66,917.4 152.56,930.87 154.46,915.98 155.72,914.66 156.97,921.47 158.23,915.18 159.49,922.38 160.74,919.71 162,923.26 163.26,921.83 164.51,911.73 165.77,919.54 167.02,911.92 168.28,919.43 169.54,917.36 170.79,914.02 172.05,916.67 173.24,923.98 174.43,917.3 175.62,916.38 176.8,922.06 177.99,922.88 179.18,912.17 180.37,916.64 181.56,920.56 182.75,916.79 183.94,919.57 185.12,911.97 186.31,916.03 187.5,921.42 188.69,912.01 189.88,921.8 191.07,919.36 192.25,922.83 193.44,913.46 194.63,921.89 195.82,916.52 197.01,922.38 198.2,917.33 199.39,914.71 200.57,916.82 201.76,917.98 202.95,917.69 204.14,918.43 205.33,916.43 206.52,923.18 207.7,918.24 208.89,921.25 210.08,912.73 211.27,911.59 212.46,923.03 213.65,921.85 214.84,914.24 216.02,915.84 217.21,923.02 218.4,913.74 219.59,910.41 220.78,917.17 221.97,918.01 223.16,914.9 224.46,914.14 225.77,927.28 227.67,929.67 229.1,911.66 230.29,899.17 231.47,894.64 232.66,896.85 233.85,894.47 235.04,906.43 236.23,910.01 237.42,908.37 238.61,920.91 239.79,924.95 240.98,916.26 242.17,923.94 243.36,925.36 244.55,928.23 245.74,926.76 246.93,925.8 248.11,925.13 249.3,916.32 250.49,924.15 251.68,924.1 252.87,919.12 254.06,914.7 255.25,922.75 256.43,916.57 257.62,921.86 258.81,919.38 260,918.98 261.19,914.45 262.38,916.98 263.56,920.36 264.75,916 265.94,922.38 267.13,922.21 268.32,914.63 269.51,920.2 270.7,917.25 271.88,923.42 273.07,915.5 274.26,919.59 275.45,924.52 276.64,915.46 277.83,921.71 279.01,923.5 280.2,924.59 281.39,926.78 282.58,925.55 283.77,919.09 284.96,926.49 286.15,924.99 287.33,922.55 288.52,921.32 289.71,923.58 290.9,918.27" fill="none" stroke="#0000ff" stroke-width="11.8" stroke-linecap="round" stroke-linejoin="round"/><polyline points="53.2,890.49 54.15,890.49 55.1,890.49 56.05,890.49 57,890.49 57.95,890.49 58.9,890.49 59.86,890.49 60.81,890.49 61.76,890.49 62.71,890.49 63.66,890.49 64.61,890.49 65.56,890.49 66.51,890.49 67.46,890.49 68.41,890.49 69.36,890.49 70.31,890.49 71.27,890.49 72.22,890.49 73.17,890.49 74.12,890.49 75.07,890.49 76.02,890.49 76.97,890.49 77.92,890.49 78.87,890.49 79.82,890.49 80.77,890.49 81.72,890.49 82.67,890.49 83.63,890.49 84.58,890.49 85.53,890.49 86.48,890.49 87.43,890.49 88.38,890.49 89.33,890.49 90.28,890.49 91.23,890.49 92.18,890.49 93.13,890.49 94.08,890.49 95.04,890.49 95.99,890.49 96.94,890.49 97.89,890.49 98.84,890.49 99.79,890.49 100.74,890.49 101.69,890.49 102.64,890.49 103.59,890.49 104.54,890.49 105.49,890.49 106.44,890.49 107.4,890.49 108.35,890.49 109.3,890.49 110.25,890.49 111.2,890.49 112.15,890.49 113.58,870.14 114.53,866.4 115.48,862.66 116.43,862.87 117.38,863.08 118.33,863.29 119.28,863.49 120.39,865.71 121.5,867.92 122.61,870.14 123.72,872.91 124.83,875.68 125.94,878.45 127.36,907.52 128.37,904.04 129.37,911.17 130.37,905.76 131.38,910.08 132.38,903.88 133.38,911.13 134.39,904.68 135.39,906.16 136.39,904.85 137.39,903.99 138.38,909.88 139.37,909.35 140.36,906.79 141.35,910.2 142.34,910.54 143.33,911 144.32,906.51 145.31,906.59 146.3,907.37 147.29,911.87 148.28,906.84 149.27,910.27 150.26,912.71 151.25,911.38 152.24,912 153.23,914.89 154.22,911.61 155.21,913.48 156.2,912.26 157.19,909.91 158.18,912.38 159.17,914.53 160.17,911.45 161.16,910.74 162.15,914.79 163.14,911.67 164.13,918.87 165.12,918.24 166.11,918.28 167.1,912.83 168.09,914.96 169.08,915.02 170.07,918.53 171.06,917.25 172.05,914.59 173.01,920.48 173.98,920.36 174.94,920.87 175.9,917.72 176.87,914.94 177.83,917.08 178.8,918.22 179.76,917.47 180.72,919.89 181.69,914.14 182.65,918.58 183.61,919.47 184.58,918.9 185.54,915.06 186.5,918.85 187.47,914.46 188.43,918.71 189.4,917.92 190.36,920.67 191.32,914.44 192.29,915.27 193.25,917.68 194.21,920.36 195.18,917.54 196.14,918.41 197.1,914.95 198.07,914.29 199.03,915.69 200,919.08 200.96,920.92 201.92,914.54 202.89,914.16 203.85,920.04 204.81,917.49 205.78,917.63 206.74,913.93 207.7,920.9 208.7,920.56 209.69,914.5 210.68,916.34 211.67,916.94 212.66,914.37 213.65,915.54 214.64,914.6 215.63,917.65 216.62,918.72 217.61,919.08 218.6,916.45 219.59,913.89 220.58,916.03 221.57,916.41 222.56,914.53 223.55,914.02 224.54,914.97 225.53,917.23 226.52,913.56 227.51,913.86 228.5,913.3 229.49,913.45 230.48,920.14 231.47,915.39 232.47,917.93 233.46,917.77 234.45,916.94 235.44,919.87 236.43,919.22 237.42,913.85 238.41,918.89 239.4,914.68 240.39,916.52 241.38,919.43 242.37,919.54 243.36,917.53 244.35,916.95 245.34,919.79 246.33,922.03 247.32,921.32 248.31,916.31 249.3,917.44 250.29,922.22 251.28,916.92 252.27,919 253.26,920.94 254.25,916.9 255.25,922.76 256.24,923.05 257.23,921.29 258.22,918.41 259.21,919.9 260.2,920.44 261.19,917.35 262.18,921.26 263.17,918.38 264.16,924.31 265.15,918.56 266.14,923.32 267.13,919.65 268.12,918.07 269.11,919.23 270.1,919.6 271.09,919.61 272.08,917.89 273.07,920.55 274.06,921.35 275.05,918.72 276.04,918.79 277.03,921.6 278.02,918.3 279.01,918.57 280.01,920.89 281,916.77 281.99,916.24 282.98,919.52 283.97,915.59 284.96,914.68 285.95,917.11 286.94,919.01 287.93,920.02 288.92,921.09 289.91,920.02 290.9,914.59" fill="none" stroke="#ff0000" stroke-width="11.8" stroke-linecap="round" stroke-linejoin="round"/></g>
<g font-family='"Liberation Serif", serif' font-size="22.3" letter-spacing="0.25" fill="#000"><text x="46.65" y="952" text-anchor="end">1.2</text><text x="46.65" y="910.47" text-anchor="end">1.3</text><text x="46.65" y="868.93" text-anchor="end">1.4</text><text x="46.65" y="827.4" text-anchor="end">1.5</text><text x="112.75" y="970.4" text-anchor="middle">0</text><text x="172.18" y="970.4" text-anchor="middle">250</text><text x="231.6" y="970.4" text-anchor="middle">500</text><text x="291.02" y="970.4" text-anchor="middle">750</text></g>
<text x="172.7" y="989.6" text-anchor="middle" letter-spacing="-0.6" font-family='"Liberation Serif", serif' font-size="22.8" fill="#000"><tspan font-style="italic">t</tspan>/s</text>
<text transform="translate(17.4 882.7) rotate(-90)" font-family='"Liberation Serif", serif' font-size="22.6" text-anchor="middle" fill="#000" textLength="90" lengthAdjust="spacing">Voltage/V</text>
<text x="184.5" y="1041" font-family='"Liberation Serif", serif' font-size="39" font-weight="bold" text-anchor="middle" fill="#000">(g)</text>
<!-- panel (h) -->
<g><rect x="427.6" y="816.8" width="233.9" height="143.2" fill="none" stroke="#000" stroke-width="4.3" stroke-linejoin="round"/><path d="M486.08 960V951.15M486.08 816.8V825.65M544.55 960V951.15M544.55 816.8V825.65M603.02 960V951.15M603.02 816.8V825.65M427.6 931.36H431.65M661.5 931.36H657.45M427.6 902.72H431.65M661.5 902.72H657.45M427.6 874.08H431.65M661.5 874.08H657.45M427.6 845.44H431.65M661.5 845.44H657.45" stroke="#000" stroke-width="3.4" stroke-linecap="round" fill="none"/><path d="" stroke="#000" stroke-width="1.4" fill="none"/></g>
<clipPath id="ch"><rect x="429.75" y="804.8" width="229.9" height="167.2" rx="2.5"/></clipPath><g clip-path="url(#ch)"><polyline points="427.6,846.11 428.77,846.11 429.94,846.11 431.12,846.11 432.29,846.11 433.46,846.11 434.63,846.11 435.8,846.11 436.97,846.11 438.15,846.11 439.32,846.11 440.49,846.11 441.66,846.11 442.83,846.11 444.01,846.11 445.18,846.11 446.35,846.11 447.52,846.11 448.69,846.11 449.86,846.11 451.04,846.11 452.21,846.11 453.38,846.11 454.55,846.11 455.72,846.11 456.9,846.11 458.07,846.11 459.24,846.11 460.41,846.11 461.58,846.11 462.76,846.11 463.93,846.11 465.1,846.11 466.27,846.11 467.44,846.11 468.61,846.11 469.79,846.11 470.96,846.11 472.13,846.11 473.3,846.11 474.47,846.11 475.65,846.11 476.82,846.11 477.99,846.11 479.16,846.11 480.33,846.11 481.5,846.11 482.68,846.11 483.85,846.11 485.02,846.11 486.19,846.11 486.31,917.04 487.48,933.27 489.35,942.82 491.45,948.54 492.62,937.09 494.26,906.54 495.43,886.49 496.83,874.08 498.71,868.35 499.95,868.67 501.2,869.73 502.45,869.41 503.62,869.11 504.79,868.32 505.96,867.88 507.13,865.92 508.3,867.41 509.47,864.77 510.63,868.58 511.8,867.5 512.97,867.8 514.14,869.31 515.31,866.57 516.48,869.37 517.65,866.49 518.82,865.28 519.99,868.72 521.16,864.98 522.33,865.12 523.5,865.55 524.67,868.33 525.84,865.4 527.01,863.86 528.18,864.99 529.35,864.73 530.52,863.64 531.69,864.55 532.86,862.36 534.02,865.35 535.19,865.58 536.36,865.04 537.53,864.05 538.7,867.71 539.87,869.2 541.04,864.39 542.21,865.3 543.38,865.69 544.55,867.27 545.72,869.29 546.89,870.2 548.06,869.88 549.23,869.52 550.4,872.11 551.57,869.2 552.74,869.52 553.91,873.82 555.08,869.86 556.25,872.22 557.41,869.3 558.58,871.03 559.75,868.68 560.92,869.87 562.09,868.38 563.26,868.36 564.43,871.62 565.6,871.69 566.77,871.93 567.94,871.72 569.11,872.63 570.28,872.44 571.45,872.51 572.62,874.61 573.79,874.25 574.96,872.43 576.13,869.27 577.3,869.39 578.47,869.27 579.63,867.61 580.8,871.56 581.97,873.03 583.14,873.87 584.31,874.51 585.48,875.91 586.65,873.41 587.82,870.89 588.99,874.24 590.16,870.22 591.33,870.26 592.5,865.17 593.67,860.08 594.84,854.99 596.16,847.99 597.49,840.98 598.81,833.98 600.22,832.39 601.62,830.8 603.02,829.21 604.19,829.19 605.36,829.17 606.53,829.15 607.7,829.13 608.87,829.12 610.04,829.1 611.21,829.08 612.38,829.06 613.55,829.04 614.72,829.02 615.89,829 617.06,828.98 618.23,828.96 619.4,828.94 620.57,828.92 621.74,828.91 622.91,828.89 624.08,828.87 625.25,828.85 626.41,828.83 627.58,828.81 628.75,828.79 629.92,828.77 631.09,828.75 632.26,828.73 633.43,828.71 634.6,828.7 635.77,828.68 636.94,828.66 638.11,828.64 639.28,828.62 640.45,828.6 641.62,828.58 642.79,828.56 643.96,828.54 645.13,828.52 646.3,828.5 647.47,828.49 648.64,828.47 649.8,828.45 650.97,828.43 652.14,828.41 653.31,828.39 654.48,828.37 655.65,828.35 656.82,828.33 657.99,828.31 659.16,828.29 660.33,828.28 661.5,828.26" fill="none" stroke="#0000ff" stroke-width="11.8" stroke-linecap="round" stroke-linejoin="round"/><polyline points="427.6,845.44 429.77,845.44 431.93,845.44 434.1,845.44 436.26,845.44 438.43,845.44 440.59,845.44 442.76,845.44 444.93,845.44 447.09,845.44 449.26,845.44 451.42,845.44 453.59,845.44 455.75,845.44 457.92,845.44 460.09,845.44 462.25,845.44 464.42,845.44 466.58,845.44 468.75,845.44 470.91,845.44 473.08,845.44 475.25,845.44 477.41,845.44 479.58,845.44 481.74,845.44 483.91,845.44 486.08,845.44 486.19,878.85 487.95,885.54 490.75,890.31 492.62,890.79 494.03,878.85 495.43,865.49 497.77,855.94 499.64,850.21 501.28,845.44 504.2,843.51 507.13,841.27 509.54,840.14 511.96,839.95 514.38,838.45 516.64,837.25 518.9,836.03 521.16,835.39 523.27,834.62 525.37,833.35 527.48,832.08 529.7,832.1 531.92,831.26 534.14,830.92 536.36,829.77 539.09,829.27 541.82,829.51 544.55,828.45 546.76,829.35 548.97,828.32 551.18,828.08 553.39,828.74 555.6,827.94 557.8,827.93 560.01,827.31 562.22,827.99 564.43,827.45 566.64,826.91 568.85,827.04 571.06,827.27 573.27,827.38 575.48,826.25 577.69,826.63 579.89,825.88 582.1,826.71 584.31,825.8 586.65,825.7 588.99,825.48 591.33,826.42 593.67,825.92 596.01,826.19 598.35,825.29 600.69,825.65 603.02,824.87 605.19,825.53 607.36,825.06 609.52,824.95 611.69,825.66 613.85,825.29 616.02,824.83 618.19,825.31 620.35,825.5 622.52,825.6 624.68,824.99 626.85,825.67 629.01,825.19 631.18,825.24 633.35,825.23 635.51,825.71 637.68,825.1 639.84,824.79 642.01,825.47 644.17,825.45 646.34,824.78 648.51,825.15 650.67,825.5 652.84,825.79 655,824.93 657.17,825.39 659.33,825.25 661.5,825.46" fill="none" stroke="#ff0000" stroke-width="11.8" stroke-linecap="round" stroke-linejoin="round"/></g>
<path d="M427.6 931.36H431.65M661.5 931.36H657.45M427.6 902.72H431.65M661.5 902.72H657.45M427.6 874.08H431.65M661.5 874.08H657.45M427.6 845.44H431.65M661.5 845.44H657.45" stroke="#000" stroke-width="3.4" stroke-linecap="round" fill="none"/>
<g font-family='"Liberation Serif", serif' font-size="22.3" letter-spacing="0.25" fill="#000"><text x="422.25" y="967.1" text-anchor="end">64</text><text x="422.25" y="938.46" text-anchor="end">67</text><text x="422.25" y="909.82" text-anchor="end">70</text><text x="422.25" y="881.18" text-anchor="end">73</text><text x="422.25" y="852.54" text-anchor="end">76</text><text x="422.25" y="823.9" text-anchor="end">79</text><text x="486.2" y="983.9" text-anchor="middle">0</text><text x="544.67" y="983.9" text-anchor="middle">250</text><text x="603.15" y="983.9" text-anchor="middle">500</text><text x="661.62" y="983.9" text-anchor="middle">750</text></g>
<text x="545.6" y="1001.2" text-anchor="middle" letter-spacing="-0.6" font-family='"Liberation Serif", serif' font-size="22.8" fill="#000"><tspan font-style="italic">t</tspan>/s</text>
<text transform="translate(392.8 889.4) rotate(-90)" font-family='"Liberation Serif", serif' font-size="22.6" text-anchor="middle" fill="#000" textLength="115" lengthAdjust="spacing">Efficiency/%</text>
<text x="554.6" y="1052.6" font-family='"Liberation Serif", serif' font-size="39" font-weight="bold" text-anchor="middle" fill="#000">(h)</text>
<!-- panel (i) -->
<g><rect x="58.8" y="1107.2" width="236.1" height="125.9" fill="none" stroke="#000" stroke-width="4.3" stroke-linejoin="round"/><path d="M117.82 1233.1V1218.65M117.82 1107.2V1121.65M176.85 1233.1V1218.65M176.85 1107.2V1121.65M235.88 1233.1V1218.65M235.88 1107.2V1121.65M58.8 1191.13H62.85M294.9 1191.13H290.85M58.8 1149.17H62.85M294.9 1149.17H290.85" stroke="#000" stroke-width="3.4" stroke-linecap="round" fill="none"/><path d="M66.18 1109.05v0.9M66.18 1230.35v0.9M73.56 1109.05v0.9M73.56 1230.35v0.9M80.93 1109.05v0.9M80.93 1230.35v0.9M88.31 1109.05v0.9M88.31 1230.35v0.9M95.69 1109.05v0.9M95.69 1230.35v0.9M103.07 1109.05v0.9M103.07 1230.35v0.9M110.45 1109.05v0.9M110.45 1230.35v0.9M117.82 1109.05v0.9M117.82 1230.35v0.9M125.2 1109.05v0.9M125.2 1230.35v0.9M132.58 1109.05v0.9M132.58 1230.35v0.9M139.96 1109.05v0.9M139.96 1230.35v0.9M147.34 1109.05v0.9M147.34 1230.35v0.9M154.72 1109.05v0.9M154.72 1230.35v0.9M162.09 1109.05v0.9M162.09 1230.35v0.9M169.47 1109.05v0.9M169.47 1230.35v0.9M176.85 1109.05v0.9M176.85 1230.35v0.9M184.23 1109.05v0.9M184.23 1230.35v0.9M191.61 1109.05v0.9M191.61 1230.35v0.9M198.98 1109.05v0.9M198.98 1230.35v0.9M206.36 1109.05v0.9M206.36 1230.35v0.9M213.74 1109.05v0.9M213.74 1230.35v0.9M221.12 1109.05v0.9M221.12 1230.35v0.9M228.5 1109.05v0.9M228.5 1230.35v0.9M235.88 1109.05v0.9M235.88 1230.35v0.9M243.25 1109.05v0.9M243.25 1230.35v0.9M250.63 1109.05v0.9M250.63 1230.35v0.9M258.01 1109.05v0.9M258.01 1230.35v0.9M265.39 1109.05v0.9M265.39 1230.35v0.9M272.77 1109.05v0.9M272.77 1230.35v0.9M280.14 1109.05v0.9M280.14 1230.35v0.9M287.52 1109.05v0.9M287.52 1230.35v0.9" stroke="#000" stroke-width="1.4" fill="none"/></g>
<clipPath id="ci"><rect x="59.7" y="1095.2" width="233.35" height="149.9" rx="2.5"/></clipPath><g clip-path="url(#ci)"><polyline points="58.8,1137.63 117.82,1137.63 122.55,1139.72 126.32,1146.44 129.16,1159.66 131.87,1172.56 133.41,1191.13 134.47,1203.72 136.71,1205.82 139.55,1204.77 140.96,1196.38 142.31,1183.79 144.5,1171.2 146.79,1161.34 149.7,1155.46 152.3,1152.31 157.96,1149.69 168.59,1148.12 188.65,1147.59 294.9,1146.86" fill="none" stroke="#0000ff" stroke-width="11.8" stroke-linecap="round" stroke-linejoin="round"/><polyline points="58.8,1137.1 116.41,1137.1 116.64,1115.59 117.59,1115.07 118.3,1141.82 119.48,1118.74 120.89,1141.82 122.31,1120.84 123.73,1141.82 125.14,1122.94 126.56,1142.87 127.98,1123.99 129.39,1143.92 130.81,1127.13 132.23,1146.02 133.64,1130.28 135.06,1149.17 136.48,1136.58 137.89,1152.31 139.31,1143.92 140.73,1154.41 142.62,1150.22 144.98,1156.51 148.52,1159.13 153.71,1160.71 159.14,1159.13 168.59,1155.67 188.65,1155.25 294.9,1155.46" fill="none" stroke="#ff0000" stroke-width="11.8" stroke-linecap="round" stroke-linejoin="round"/></g>
<g font-family='"Liberation Serif", serif' font-size="22.3" letter-spacing="0.25" fill="#000"><text x="48.45" y="1240.7" text-anchor="end">88</text><text x="48.45" y="1198.73" text-anchor="end">92</text><text x="48.45" y="1156.77" text-anchor="end">96</text><text x="48.45" y="1114.8" text-anchor="end">100</text><text x="117.95" y="1258.6" text-anchor="middle">0</text><text x="176.97" y="1258.6" text-anchor="middle">250</text><text x="236" y="1258.6" text-anchor="middle">500</text><text x="295.02" y="1258.6" text-anchor="middle">750</text></g>
<text x="177.6" y="1276.9" text-anchor="middle" letter-spacing="-0.6" font-family='"Liberation Serif", serif' font-size="22.8" fill="#000"><tspan font-style="italic">t</tspan>/s</text>
<text transform="translate(16.8 1166) rotate(-90)" font-family='"Liberation Serif", serif' font-size="22.6" text-anchor="middle" fill="#000" textLength="156.5" lengthAdjust="spacing">Utilization rate/%</text>
<text x="185.1" y="1322" font-family='"Liberation Serif", serif' font-size="39" font-weight="bold" text-anchor="middle" fill="#000">(i)</text>
<!-- panel (j) -->
<clipPath id="cj"><rect x="427.1" y="1096.9" width="235.8" height="140.7" rx="2.5"/></clipPath><g clip-path="url(#cj)"><polyline points="427.9,1226.84 487.72,1226.84 489.37,1225.13 546.37,1225.13 556.93,1226.84 662.5,1227" fill="none" stroke="#0000ff" stroke-width="11.8" stroke-linecap="round" stroke-linejoin="round"/><polyline points="427.9,1223.89 429.57,1223.89 431.25,1223.89 432.92,1223.89 434.59,1223.89 436.27,1223.89 437.94,1223.89 439.61,1223.89 441.29,1223.89 442.96,1223.89 444.63,1223.89 446.31,1223.89 447.98,1223.89 449.65,1223.89 451.33,1223.89 453,1223.89 454.67,1223.89 456.35,1223.89 458.02,1223.89 459.69,1223.89 461.37,1223.89 463.04,1223.89 464.71,1223.89 466.38,1223.89 468.06,1223.89 469.73,1223.89 471.4,1223.89 473.08,1223.89 474.75,1223.89 476.42,1223.89 478.1,1223.89 479.77,1223.89 481.44,1223.89 483.12,1223.89 484.79,1223.89 484.79,1182.03 484.44,1174.25 485.14,1166.47 484.44,1158.69 485.14,1151.69 486.08,1157.14 487.02,1150.91 488.43,1141.58 490.3,1132.24 492.18,1124.46 494.06,1122.28 495.93,1127.73 498.75,1136.38 500.39,1142.52 502.03,1148.95 503.91,1161.04 505.79,1170.32 508.84,1179.61 510.6,1184.02 512.36,1187.62 514.7,1191.41 517.05,1195.09 519,1195.57 520.96,1196.47 522.91,1199.42 524.56,1198.05 526.2,1200.27 527.84,1200.92 529.48,1202.11 531.12,1200.09 533,1201.44 534.88,1201.68 536.75,1203.02 538.63,1205.28 540.74,1205.93 542.85,1206.93 544.61,1209.87 546.37,1209.4 548.72,1213.05 551.07,1215.67 553.18,1215.41 555.29,1218.95 557.4,1217.81 559.51,1220.26 561.62,1221.1 563.66,1222.36 565.69,1222.59 567.72,1223.27 569.53,1223.35 571.34,1223.44 573.15,1223.53 574.96,1223.62 576.77,1223.71 578.58,1223.8 580.39,1223.89" fill="none" stroke="#ff0000" stroke-width="11.8" stroke-linecap="round" stroke-linejoin="round"/><polyline points="580.39,1223.83 581.56,1223.67 582.74,1224.34 583.91,1223.54 585.08,1223.77 586.25,1223.76 587.43,1223.58 588.6,1224.05 589.77,1223.63 590.95,1223.74 592.12,1224.25 593.29,1223.72 594.47,1223.83 595.64,1223.62 596.81,1223.61 597.99,1223.77 599.16,1223.82 600.33,1223.53 601.5,1224.23 602.68,1224.24 603.85,1223.79 605.02,1223.77 606.2,1223.5 607.37,1223.74 608.54,1223.9 609.72,1223.57 610.89,1224.29 612.06,1224.19 613.23,1223.5 614.41,1223.75 615.58,1223.83 616.75,1223.94 617.93,1224.37 619.1,1224.07 620.27,1224.23 621.44,1224.2 622.62,1223.99 623.79,1224.34 624.96,1223.68 626.14,1224.31 627.31,1224.44 628.48,1223.97 629.66,1224.2 630.83,1224.25 632,1223.78 633.17,1223.86 634.35,1223.66 635.52,1223.55 636.69,1224.21 637.87,1223.96 639.04,1224.15 640.21,1224.24 641.39,1224.22 642.56,1224.14 643.73,1224.03 644.9,1223.84 646.08,1223.57 647.25,1223.66 648.42,1224.42 649.6,1224.26 650.77,1223.63 651.94,1223.63 653.12,1223.99 654.29,1224.29 655.46,1224.43 656.63,1224.47 657.81,1223.62 658.98,1223.78 660.15,1223.97 661.33,1223.92 662.5,1224.18" fill="none" stroke="#ff0000" stroke-width="11.8" stroke-linecap="round" stroke-linejoin="round"/><polyline points="485.38,1166.47 487.96,1154.02 490.3,1164.92 492.65,1147.8 495,1161.8 497.34,1144.69 499.69,1154.02" fill="none" stroke="#ff0000" stroke-width="11.8" stroke-linecap="round" stroke-linejoin="round"/></g>
<g><rect x="427.9" y="1108.9" width="234.6" height="116.7" fill="none" stroke="#000" stroke-width="4.3" stroke-linejoin="round"/><path d="M486.55 1225.6V1211.15M486.55 1108.9V1123.35M545.2 1225.6V1211.15M545.2 1108.9V1123.35M603.85 1225.6V1211.15M603.85 1108.9V1123.35M427.9 1186.7H431.95M662.5 1186.7H658.45M427.9 1147.8H431.95M662.5 1147.8H658.45" stroke="#000" stroke-width="3.4" stroke-linecap="round" fill="none"/><path d="M435.23 1110.75v0.9M435.23 1222.85v0.9M442.56 1110.75v0.9M442.56 1222.85v0.9M449.89 1110.75v0.9M449.89 1222.85v0.9M457.22 1110.75v0.9M457.22 1222.85v0.9M464.56 1110.75v0.9M464.56 1222.85v0.9M471.89 1110.75v0.9M471.89 1222.85v0.9M479.22 1110.75v0.9M479.22 1222.85v0.9M486.55 1110.75v0.9M486.55 1222.85v0.9M493.88 1110.75v0.9M493.88 1222.85v0.9M501.21 1110.75v0.9M501.21 1222.85v0.9M508.54 1110.75v0.9M508.54 1222.85v0.9M515.88 1110.75v0.9M515.88 1222.85v0.9M523.21 1110.75v0.9M523.21 1222.85v0.9M530.54 1110.75v0.9M530.54 1222.85v0.9M537.87 1110.75v0.9M537.87 1222.85v0.9M545.2 1110.75v0.9M545.2 1222.85v0.9M552.53 1110.75v0.9M552.53 1222.85v0.9M559.86 1110.75v0.9M559.86 1222.85v0.9M567.19 1110.75v0.9M567.19 1222.85v0.9M574.52 1110.75v0.9M574.52 1222.85v0.9M581.86 1110.75v0.9M581.86 1222.85v0.9M589.19 1110.75v0.9M589.19 1222.85v0.9M596.52 1110.75v0.9M596.52 1222.85v0.9M603.85 1110.75v0.9M603.85 1222.85v0.9M611.18 1110.75v0.9M611.18 1222.85v0.9M618.51 1110.75v0.9M618.51 1222.85v0.9M625.84 1110.75v0.9M625.84 1222.85v0.9M633.17 1110.75v0.9M633.17 1222.85v0.9M640.51 1110.75v0.9M640.51 1222.85v0.9M647.84 1110.75v0.9M647.84 1222.85v0.9M655.17 1110.75v0.9M655.17 1222.85v0.9" stroke="#000" stroke-width="1.4" fill="none"/></g>
<g font-family='"Liberation Serif", serif' font-size="22.3" letter-spacing="0.25" fill="#000"><text x="413.52" y="1232.7" text-anchor="middle">0</text><text x="413.52" y="1193.8" text-anchor="middle">25</text><text x="413.52" y="1154.9" text-anchor="middle">50</text><text x="413.52" y="1116" text-anchor="middle">75</text><text x="486.67" y="1252.4" text-anchor="middle">0</text><text x="545.33" y="1252.4" text-anchor="middle">250</text><text x="603.98" y="1252.4" text-anchor="middle">500</text><text x="662.62" y="1252.4" text-anchor="middle">750</text></g>
<text x="545" y="1268.7" text-anchor="middle" letter-spacing="-0.6" font-family='"Liberation Serif", serif' font-size="22.8" fill="#000"><tspan font-style="italic">t</tspan>/s</text>
<text transform="translate(396.4 1166) rotate(-90)" font-family='"Liberation Serif", serif' font-size="22.6" text-anchor="middle" fill="#000" textLength="143" lengthAdjust="spacing">Velocity/mm&#183;s<tspan dy="-10" font-size="14">-1</tspan></text>
<text x="555" y="1327.8" font-family='"Liberation Serif", serif' font-size="39" font-weight="bold" text-anchor="middle" fill="#000">(j)</text>
</svg>
</body></html>
